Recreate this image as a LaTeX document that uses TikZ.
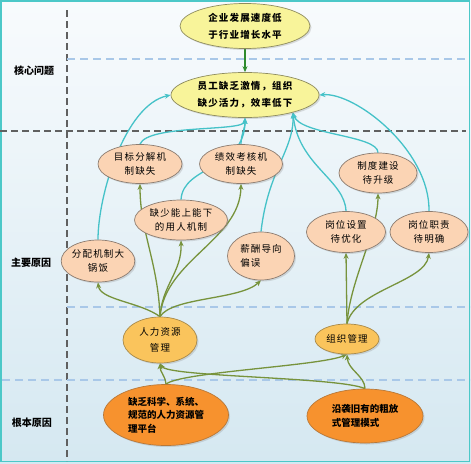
\documentclass[tikz,border=0pt]{standalone}
\usepackage{fontspec}
\setmainfont{Noto Sans CJK SC}
\newfontfamily\widecjk{Noto Sans CJK SC}[LetterSpace=12]
\usetikzlibrary{arrows.meta,shapes.geometric,shadows}
\pgfdeclarelayer{bglayer}
\pgfdeclarelayer{connlayer}
\pgfsetlayers{bglayer,connlayer,main}
\definecolor{bgtop}{HTML}{F8FBFD}
\definecolor{bgbot}{HTML}{D5E8F1}
\definecolor{framec}{HTML}{4CC8C8}
\definecolor{cyanln}{HTML}{45C2C8}
\definecolor{greenln}{HTML}{77933C}
\definecolor{darkgr}{HTML}{2E8B2E}
\definecolor{yelf}{HTML}{F8F49A}
\definecolor{yeld}{HTML}{8E8C5E}
\definecolor{peachf}{HTML}{FBD4B4}
\definecolor{peachd}{HTML}{8C7C70}
\definecolor{goldf}{HTML}{FAC45C}
\definecolor{goldd}{HTML}{A98A4A}
\definecolor{orf}{HTML}{F7922E}
\definecolor{ord}{HTML}{B87838}
\definecolor{dashdk}{HTML}{606060}
\definecolor{dashlt}{HTML}{A9C8E8}
\tikzset{
  ell/.style={ellipse, inner sep=0pt, align=center, text=black,
    drop shadow={opacity=0.25, shadow xshift=1.5pt, shadow yshift=-1.5pt}},
  yel/.style={ell, draw=yeld, fill=yelf, line width=0.7pt, font=\widecjk\bfseries\fontsize{9.5}{17}\selectfont},
  peach/.style={ell, draw=peachd, fill=peachf, line width=0.7pt, font=\widecjk\fontsize{9.5}{14}\selectfont},
  gold/.style={ell, draw=goldd, fill=goldf, line width=0.7pt, font=\widecjk\fontsize{9.5}{16}\selectfont},
  orng/.style={ell, draw=ord, fill=orf, line width=0.7pt, align=left, font=\bfseries\fontsize{9.5}{13.5}\selectfont},
  cy/.style={draw=cyanln, line width=1.3pt, -{Stealth[length=6pt,width=5pt]}},
  gr/.style={draw=greenln, line width=1.3pt, -{Stealth[length=6pt,width=5pt]}},
  dkarrow/.style={draw=darkgr, line width=1.2pt, -{Stealth[length=6pt,width=5pt]}},
  darkdash/.style={draw=dashdk, line width=1.6pt, dash pattern=on 7pt off 4pt},
  lightdash/.style={draw=dashlt, line width=1.2pt, dash pattern=on 8pt off 5pt},
  lbl/.style={font=\bfseries\fontsize{10}{12}\selectfont, text=black, inner sep=0pt}
}
\begin{document}
\begin{tikzpicture}[x=1pt,y=-1pt]
\useasboundingbox (0,0) rectangle (471,463);
\begin{pgfonlayer}{bglayer}
\shade[top color=bgtop, bottom color=bgbot] (0,0) rectangle (471,463);
\draw[framec, line width=1.6pt] (1,1) rectangle (469.5,461.5);
\draw[darkdash] (67,10) -- (67,461);
\draw[darkdash] (0,131) -- (466,131);
\draw[lightdash] (67,59) -- (465,59);
\draw[lightdash] (67,307) -- (470,307);
\draw[lightdash] (2,380) -- (470,380);
\end{pgfonlayer}

% row labels
\node[lbl] (l1) at (34,71) {核心问题};
\node[lbl] (l2) at (31,263) {主要原因};
\node[lbl] (l3) at (32,423) {根本原因};

% nodes
\node[yel, minimum width=130pt, minimum height=45pt] (top) at (245,26) {企业发展速度低\\于行业增长水平};
\node[yel, minimum width=148pt, minimum height=45pt] (core) at (245,95) {员工缺乏激情，组织\\缺少活力，效率低下};

\node[peach, minimum width=84pt, minimum height=39pt] (mb) at (140,164) {目标分解机\\制缺失};
\node[peach, minimum width=83pt, minimum height=39pt] (jx) at (241,164) {绩效考核机\\制缺失};
\node[peach, minimum width=93pt, minimum height=40pt] (qs) at (181,220) {缺少能上能下\\的用人机制};
\node[peach, minimum width=73pt, minimum height=42pt] (fp) at (98,261) {分配机制大\\锅饭};
\node[peach, minimum width=67pt, minimum height=48pt, align=left] (xc) at (261,256) {薪酬导向\\偏误};
\node[peach, minimum width=78pt, minimum height=40pt] (zd) at (378,173) {制度建设\\待升级};
\node[peach, minimum width=79pt, minimum height=41pt] (gs) at (346,232) {岗位设置\\待优化};
\node[peach, minimum width=78pt, minimum height=41pt] (zz) at (429,232) {岗位职责\\待明确};

\node[gold, minimum width=74pt, minimum height=46pt] (hr) at (160,340) {人力资源\\管理};
\node[gold, minimum width=64pt, minimum height=30pt] (om) at (347,339) {组织管理};

\node[orng, minimum width=125pt, minimum height=61pt] (gap) at (166,415) {缺乏科学、系统、\\规范的人力资源管\\理平台};
\node[orng, minimum width=116pt, minimum height=54pt] (yx) at (365,416) {沿袭旧有的粗放\\式管理模式};

\begin{pgfonlayer}{connlayer}
% dark green
\draw[dkarrow] (top.south) -- (core.north);
% cyan to core problem
\draw[cy] (fp.north) .. controls (98,195) and (125,105) .. (core.west);
\draw[cy] (mb.north) .. controls (148,124) and (244,132) .. (core.south);
\draw[cy] (jx.north) .. controls (241,134) and (245,130) .. (core.south);
\draw[cy] (qs.north) .. controls (183,165) and (245,170) .. (core.south);
\draw[cy] (xc.north) .. controls (268,170) and (294,150) .. (core.-20);
\draw[cy] (gs.north) .. controls (345,180) and (298,165) .. (core.-20);
\draw[cy] (zd.north) .. controls (378,135) and (300,135) .. (core.-20);
\draw[cy] (zz.north) .. controls (430,150) and (355,92) .. (core.east);
% green from HR
\draw[gr] (hr.north) .. controls (158,262) and (140,232) .. (mb.south);
\draw[gr] (hr.north) .. controls (162,285) and (182,272) .. (qs.south);
\draw[gr] (hr.north) .. controls (165,260) and (240,240) .. (jx.south);
\draw[gr] (hr.north) .. controls (172,297) and (240,300) .. (xc.south);
\draw[gr] (hr.north) .. controls (140,302) and (100,300) .. (fp.south);
% green from organisation
\draw[gr] (om.north) -- (gs.south);
\draw[gr] (om.north) .. controls (350,280) and (378,232) .. (zd.south);
\draw[gr] (om.north) .. controls (355,290) and (425,282) .. (zz.south);
% green from root causes
\draw[gr] (gap.north) .. controls (165,375) and (160,372) .. (hr.south);
\draw[gr] (gap.north) .. controls (180,372) and (320,366) .. (om.south);
\draw[gr] (yx.north) .. controls (365,376) and (348,370) .. (om.south);
\draw[gr] (yx.north) .. controls (340,377) and (168,377) .. (hr.south);
\end{pgfonlayer}
\end{tikzpicture}
\end{document}
